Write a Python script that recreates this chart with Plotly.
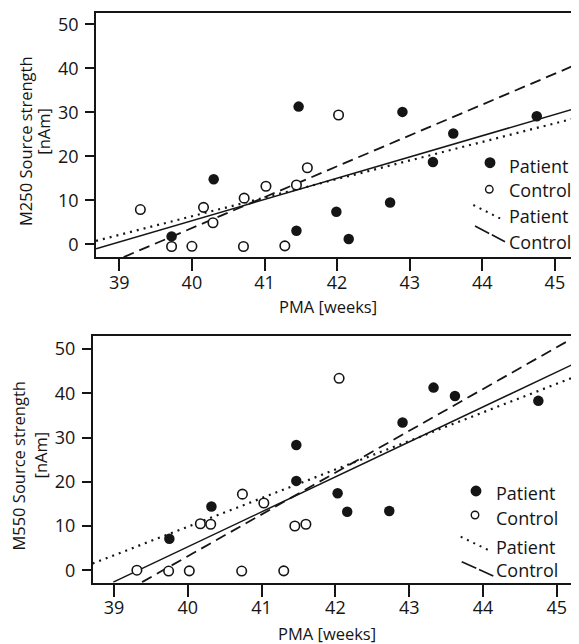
import plotly.graph_objects as go

# ---------------- data ----------------
patient_pma_m250 = [39.72, 40.30, 41.47, 41.44, 41.99, 42.16, 42.73, 42.90, 43.32, 43.60, 44.75]
patient_m250 = [1.8, 14.8, 31.3, 3.1, 7.4, 1.2, 9.5, 30.1, 18.7, 25.2, 29.1]
control_pma_m250 = [39.29, 39.72, 40.00, 40.16, 40.29, 40.72, 40.71, 41.02, 41.28, 41.44, 41.59, 42.02]
control_m250 = [7.9, -0.5, -0.45, 8.4, 4.9, 10.5, -0.5, 13.2, -0.35, 13.5, 17.4, 29.4]

patient_pma_m550 = [39.75, 40.32, 41.47, 41.47, 42.03, 42.16, 42.73, 42.91, 43.33, 43.62, 44.75]
patient_m550 = [7.1, 14.4, 28.3, 20.2, 17.4, 13.2, 13.4, 33.4, 41.3, 39.4, 38.3]
control_pma_m550 = [39.31, 39.74, 40.02, 40.17, 40.31, 40.74, 40.73, 41.03, 41.30, 41.45, 41.60, 42.05]
control_m550 = [0.0, -0.2, -0.15, 10.5, 10.4, 17.2, -0.2, 15.2, -0.15, 10.0, 10.4, 43.4]

# regression lines (end points)
fit_m250_patient_x = [38.68, 45.33]
fit_m250_patient_y = [0.8, 28.9]
fit_m250_all_x = [38.68, 45.33]
fit_m250_all_y = [-1.0, 31.1]
fit_m250_control_x = [39.06, 45.33]
fit_m250_control_y = [-2.9, 41.1]

fit_m550_patient_x = [38.71, 45.30]
fit_m550_patient_y = [1.5, 44.1]
fit_m550_all_x = [38.99, 45.30]
fit_m550_all_y = [-2.7, 47.2]
fit_m550_control_x = [39.38, 45.22]
fit_m550_control_y = [-2.7, 52.5]

x_ticks = [39, 40, 41, 42, 43, 44, 45]
y_ticks = [0, 10, 20, 30, 40, 50]
legend_labels = ["Patient", "Control", "Patient", "Control"]

# the page body has an 8px margin; the figure fills the rest of the 579x644 window
OFF = 8
W, H = 579 - OFF, 644 - OFF
FONT = "Open Sans"
INK = "#151515"

fig = go.Figure()


def add_panel(xa, ya, px, py, cx, cy, fits):
    (fpx, fpy), (fax, fay), (fcx, fcy) = fits
    fig.add_trace(go.Scatter(x=fpx, y=fpy, mode="lines", xaxis=xa, yaxis=ya,
                             line=dict(color=INK, width=2.2, dash="2px,5px"), hoverinfo="skip"))
    fig.add_trace(go.Scatter(x=fax, y=fay, mode="lines", xaxis=xa, yaxis=ya,
                             line=dict(color=INK, width=1.5), hoverinfo="skip"))
    fig.add_trace(go.Scatter(x=fcx, y=fcy, mode="lines", xaxis=xa, yaxis=ya,
                             line=dict(color=INK, width=1.8, dash="11px,6px"), hoverinfo="skip"))
    fig.add_trace(go.Scatter(x=cx, y=cy, mode="markers", xaxis=xa, yaxis=ya,
                             marker=dict(size=9.5, color="white", line=dict(color=INK, width=1.6))))
    fig.add_trace(go.Scatter(x=px, y=py, mode="markers", xaxis=xa, yaxis=ya,
                             marker=dict(size=10.5, color=INK, line=dict(width=0))))


add_panel("x", "y", patient_pma_m250, patient_m250, control_pma_m250, control_m250,
          [(fit_m250_patient_x, fit_m250_patient_y), (fit_m250_all_x, fit_m250_all_y),
           (fit_m250_control_x, fit_m250_control_y)])
add_panel("x2", "y2", patient_pma_m550, patient_m550, control_pma_m550, control_m550,
          [(fit_m550_patient_x, fit_m550_patient_y), (fit_m550_all_x, fit_m550_all_y),
           (fit_m550_control_x, fit_m550_control_y)])


def px_x(p):
    return (p - OFF) / W


def px_y(p):
    return 1 - (p - OFF) / H


axis_common = dict(showgrid=False, zeroline=False, showline=True, linecolor=INK, linewidth=1.6,
                   ticks="outside", tickcolor=INK, tickwidth=1.5,
                   tickfont=dict(family=FONT, size=18, color=INK))

fig.update_layout(
    width=W, height=H, margin=dict(l=0, r=0, t=0, b=0),
    paper_bgcolor="white", plot_bgcolor="white", showlegend=False,
    xaxis=dict(domain=[px_x(96), 1], range=[38.679, 45.332], anchor="y", tickvals=x_ticks,
               ticklen=12, mirror=True, ticklabelstandoff=-4, **axis_common),
    yaxis=dict(domain=[px_y(257.4), px_y(12.9)], range=[-2.97, 52.6], anchor="x", tickvals=y_ticks,
               ticklen=9, ticklabelstandoff=3, **axis_common),
    xaxis2=dict(domain=[px_x(92.7), 1], range=[38.711, 45.301], anchor="y2", tickvals=x_ticks,
                ticklen=12, mirror=True, ticklabelstandoff=-4, **axis_common),
    yaxis2=dict(domain=[px_y(582.7), px_y(336.3)], range=[-2.83, 52.9], anchor="x2", tickvals=y_ticks,
                ticklen=9, ticklabelstandoff=3, **axis_common),
)

annotations = []
shapes = []


def text(x, y, s, size=18, angle=0, xanchor="center"):
    annotations.append(dict(x=px_x(x), y=px_y(y), xref="paper", yref="paper", text=s, showarrow=False,
                            textangle=angle, xanchor=xanchor, yanchor="middle",
                            font=dict(family=FONT, size=size, color=INK)))


# axis titles
text(328, 307, "PMA [weeks]", size=16.5)
text(327, 633, "PMA [weeks]", size=16.5)
text(25.5, 141.5, "M250 Source strength", size=16.5, angle=-90)
text(44, 131.7, "[nAm]", size=16.5, angle=-90)
text(18.3, 465.3, "M550 Source strength", size=16.5, angle=-90)
text(40, 455.5, "[nAm]", size=16.5, angle=-90)


def legend(text_x, rows, filled, opened, dotted, dashed):
    for lab, ry in zip(legend_labels, rows):
        text(text_x, ry, lab, size=18, xanchor="left")
    for (cx, cy), fill, d in ((filled, INK, 9.5), (opened, "white", 7.5)):
        shapes.append(dict(type="circle", xref="paper", yref="paper", xsizemode="pixel", ysizemode="pixel",
                           xanchor=px_x(cx), yanchor=px_y(cy), x0=-d / 2, x1=d / 2, y0=-d / 2, y1=d / 2,
                           fillcolor=fill, line=dict(color=INK, width=1.4)))
    (a, b), (c, d) = dotted
    shapes.append(dict(type="line", xref="paper", yref="paper", x0=px_x(a), y0=px_y(b), x1=px_x(c), y1=px_y(d),
                       line=dict(color=INK, width=2, dash="2px,5px")))
    (a, b), (c, d) = dashed
    shapes.append(dict(type="line", xref="paper", yref="paper", x0=px_x(a), y0=px_y(b), x1=px_x(c), y1=px_y(d),
                       line=dict(color=INK, width=1.6, dash="16px,3px")))


legend(507, [166, 190, 216, 241.7], (490, 162.7), (489.3, 189.3),
       ((473.3, 205), (503.3, 220)), ((475, 226), (505, 241.7)))
legend(494, [493.3, 518.3, 546.7, 570], (476, 491), (475, 515),
       ((460.7, 536.7), (491.7, 551.7)), ((461.7, 561.7), (493.3, 576)))

fig.update_layout(annotations=annotations, shapes=shapes)
fig.write_html("out.html")
